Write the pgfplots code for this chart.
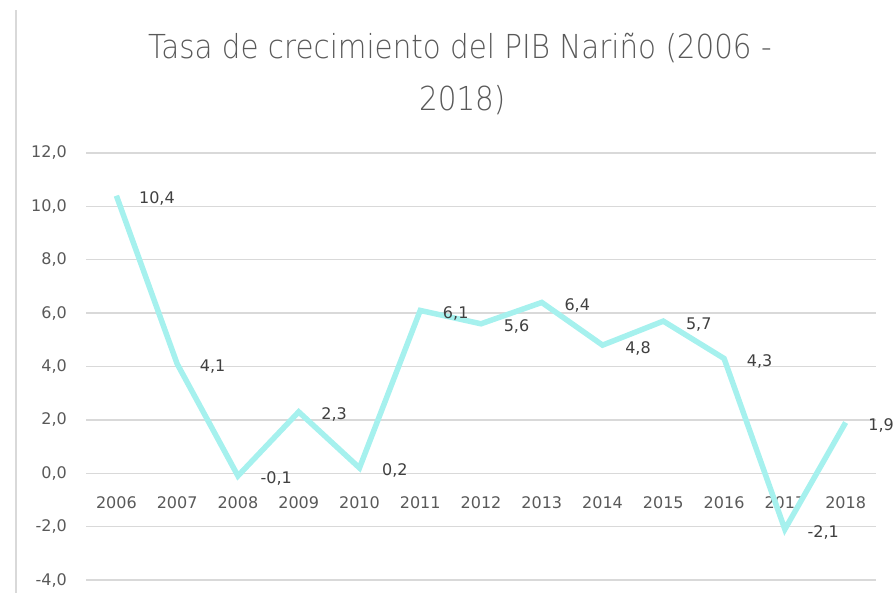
\documentclass[border=0pt]{standalone}
\usepackage{fontspec}
\setmainfont{DejaVu Sans}
\newfontfamily\titlefont[FakeStretch=0.89]{DejaVu Sans ExtraLight}
\usepackage{pgfplots}
\pgfplotsset{compat=1.18}
\definecolor{linecyan}{RGB}{166,241,238}
\definecolor{gridgray}{RGB}{217,217,217}
\definecolor{ticktext}{RGB}{89,89,89}
\definecolor{labeltext}{RGB}{64,64,64}
\definecolor{titlegray}{RGB}{89,89,89}
\begin{document}
\begin{tikzpicture}[x=1bp,y=1bp]
\path[use as bounding box] (0,0) rectangle (893,593);
\draw[gridgray, line width=1.5bp] (16,0) -- (16,583);
\node[anchor=base west, inner sep=0, text=titlegray, font=\titlefont\fontsize{33bp}{38bp}\selectfont] at (148,534) {Tasa de crecimiento del PIB Nariño (2006 -};
\node[anchor=base west, inner sep=0, text=titlegray, font=\titlefont\fontsize{33bp}{38bp}\selectfont] at (419,482) {2018)};
\begin{axis}[
  at={(86bp,13bp)}, anchor=south west,
  scale only axis, width=790bp, height=427bp,
  xmin=-0.5, xmax=12.5, ymin=-4, ymax=12,
  xtick={0,...,12},
  xticklabels={2006,2007,2008,2009,2010,2011,2012,2013,2014,2015,2016,2017,2018},
  ytick={-4,-2,0,2,4,6,8,10,12},
  axis line style={draw=none},
  major tick length=0pt,
  ymajorgrids, grid style={gridgray, line width=1.3bp},
  clip=false,
  /pgf/number format/assume math mode=true,
  yticklabel={\pgfmathprintnumber[fixed, fixed zerofill, precision=1, use comma]{\tick}},
  yticklabel style={anchor=east, inner sep=0pt, xshift=-19bp, text=ticktext, font=\fontsize{16bp}{18bp}\selectfont},
  xticklabel style={anchor=north, inner sep=0pt, yshift=84bp, text=ticktext, font=\fontsize{16bp}{18bp}\selectfont},
  nodes near coords={\pgfmathprintnumber[fixed, fixed zerofill, precision=1, use comma, assume math mode=true]{\pgfplotspointmeta}},
  nodes near coords style={anchor=west, inner sep=0pt, xshift=20bp, yshift=-3bp, text=labeltext, font=\fontsize{16bp}{18bp}\selectfont},
  point meta=explicit,
]
\addplot[color=linecyan, line width=5.5bp, line join=miter, no markers] table[meta index=1] {
x y
0 10.4
1 4.1
2 -0.1
3 2.3
4 0.2
5 6.1
6 5.6
7 6.4
8 4.8
9 5.7
10 4.3
11 -2.1
12 1.9
};
\end{axis}
\end{tikzpicture}
\end{document}
